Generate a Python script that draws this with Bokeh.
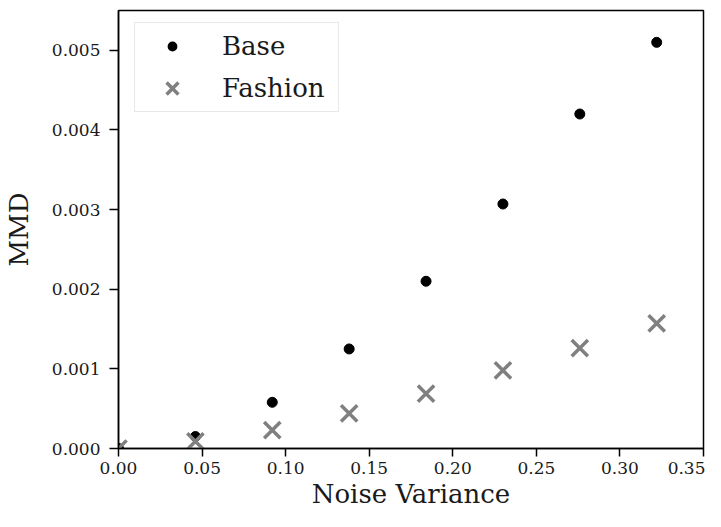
from bokeh.plotting import figure
from bokeh.models import FixedTicker, PrintfTickFormatter, Range1d, Legend, LegendItem
from bokeh.embed import file_html
from bokeh.resources import INLINE

noise_variance = [0.0, 0.046, 0.092, 0.138, 0.184, 0.230, 0.276, 0.322]
mmd_base = [0.0, 0.00015, 0.00058, 0.00125, 0.0021, 0.00307, 0.0042, 0.0051]
mmd_fashion = [0.0, 0.00009, 0.00023, 0.00044, 0.00069, 0.00098, 0.00126, 0.00157]
x_ticks = [0.0, 0.05, 0.10, 0.15, 0.20, 0.25, 0.30, 0.35]
y_ticks = [0.0, 0.001, 0.002, 0.003, 0.004, 0.005]

FONT = "DejaVu Serif"
NAN = float("nan")

p = figure(width=705, height=511, output_backend="svg", toolbar_location=None,
           x_range=Range1d(0, 0.35), y_range=Range1d(0, 0.0055),
           min_border_left=118, min_border_right=2, min_border_top=10, min_border_bottom=10)

p.xgrid.visible = False
p.ygrid.visible = False
p.outline_line_color = "black"
p.outline_line_width = 1.5

r_base = p.scatter(noise_variance, mmd_base, marker="circle", size=10,
                   fill_color="black", line_color="black")
r_fash = p.scatter(noise_variance, mmd_fashion, marker="x", size=23,
                   line_color="gray", line_width=3.5)

# legend-only swatches (a single NaN point draws nothing in the plot)
leg_base = p.scatter(x=[NAN], y=[NAN], marker="circle", fill_color="black",
                     line_color="white", line_width=7)
leg_fash = p.scatter(x=[NAN], y=[NAN], marker="x", line_color="gray", line_width=3.5)

for ax in (p.xaxis[0], p.yaxis[0]):
    ax.major_tick_out = 9
    ax.major_tick_in = 0
    ax.minor_tick_out = 0
    ax.minor_tick_in = 0
    ax.axis_line_width = 1.5
    ax.major_tick_line_width = 1.5
    ax.major_label_text_font = FONT
    ax.major_label_text_font_size = "17px"
    ax.major_label_text_color = "#1a1a1a"
    ax.axis_label_text_font = FONT
    ax.axis_label_text_font_size = "26px"
    ax.axis_label_text_font_style = "normal"
    ax.axis_label_text_color = "#1a1a1a"

p.xaxis[0].ticker = FixedTicker(ticks=x_ticks)
p.xaxis[0].formatter = PrintfTickFormatter(format="%.2f")
p.xaxis[0].axis_label = "Noise Variance"
p.xaxis[0].major_tick_out = 8
p.xaxis[0].major_label_standoff = 5
p.xaxis[0].axis_label_standoff = 2

p.yaxis[0].ticker = FixedTicker(ticks=y_ticks)
p.yaxis[0].formatter = PrintfTickFormatter(format="%.3f")
p.yaxis[0].axis_label = "MMD"
p.yaxis[0].major_label_standoff = 9
p.yaxis[0].axis_label_standoff = 15

legend = Legend(items=[LegendItem(label="Base", renderers=[leg_base]),
                       LegendItem(label="Fashion", renderers=[leg_fash])],
                location=(16, 336))
legend.margin = 0
legend.label_text_font = FONT
legend.label_text_font_size = "26px"
legend.label_text_color = "#1a1a1a"
legend.padding = 2
legend.glyph_width = 70
legend.glyph_height = 42
legend.label_height = 28
legend.label_width = 114
legend.label_standoff = 15
legend.spacing = 0
legend.border_line_color = "#d0d0d0"
legend.border_line_width = 1.5
legend.background_fill_alpha = 0.8
p.add_layout(legend)

open("out.html", "w").write(file_html(p, INLINE))
